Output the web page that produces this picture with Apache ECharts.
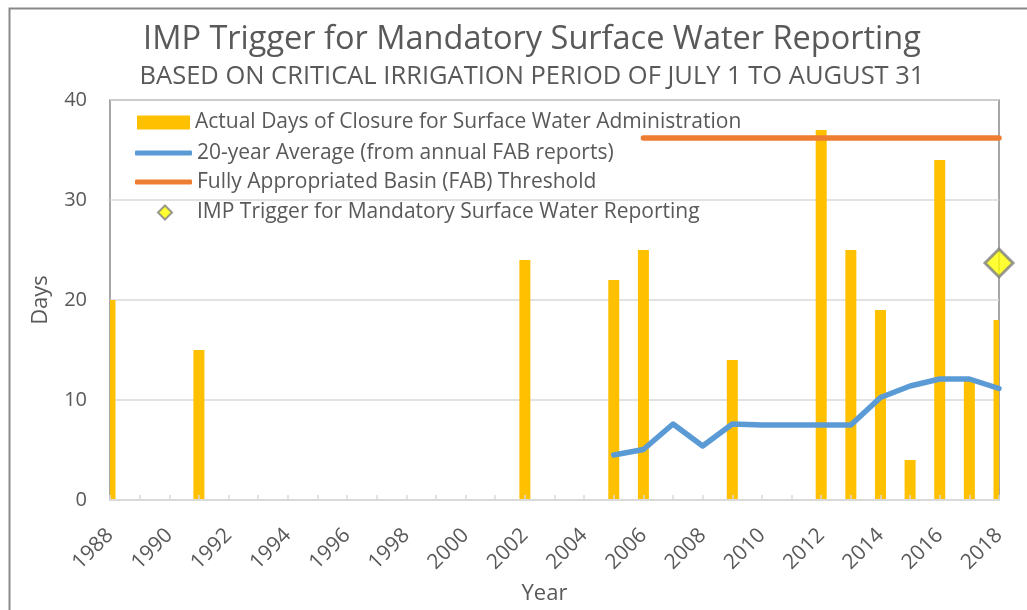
<!DOCTYPE html>
<html>
<head>
<meta charset="utf-8">
<script src="https://cdn.jsdelivr.net/npm/echarts@6/dist/echarts.min.js"></script>
<style>
html,body{margin:0;padding:0;background:#fff;}
#c{width:1027px;height:610px;}
</style>
</head>
<body>
<div id="c"></div>
<script>
// ---- data ----
const closureYears = [1988, 1991, 2002, 2005, 2006, 2009, 2012, 2013, 2014, 2015, 2016, 2017, 2018];
const closureDays  = [20,   15,   24,   22,   25,   14,   37,   25,   19,   4,    34,   12,   18];
const avgYears = [2005, 2006, 2007, 2008, 2009, 2010, 2011, 2012, 2013, 2014, 2015, 2016, 2017, 2018];
const avgDays  = [4.5,  5.05, 7.6,  5.4,  7.6,  7.5,  7.5,  7.5,  7.5,  10.25, 11.4, 12.1, 12.1, 11.15];
const fabYears = [2006, 2018];
const fabDays  = [36.2, 36.2];
const impYears = [2018];
const impDays  = [23.7];
const yearMin = 1988, yearMax = 2018;
const seriesNames = [
  'Actual Days of Closure for Surface Water Administration',
  '20-year Average (from annual FAB reports)',
  'Fully Appropriated Basin (FAB) Threshold',
  'IMP Trigger for Mandatory Surface Water Reporting'
];
const titleText = 'IMP Trigger for Mandatory Surface Water Reporting';
const subtitleText = 'BASED ON CRITICAL IRRIGATION PERIOD OF JULY 1 TO AUGUST 31';

const zip = (a, b) => a.map((v, i) => [v, b[i]]);
const FONT = 'Open Sans';
const TXT = '#595959';
const BAR_COLOR = '#FFC000';
const BAR_W = 11;

const chart = echarts.init(document.getElementById('c'), null, {renderer: 'canvas'});
const legendBase = {
  orient: 'vertical', left: 137, itemWidth: 53, itemHeight: 14, padding: 0,
  textStyle: {fontFamily: FONT, fontSize: 21, color: TXT}, selectedMode: false
};

function renderBar(params, api) {
  const x = api.value(0), v = api.value(1);
  const top = api.coord([x, v]);
  const base = api.coord([x, 0]);
  const cs = params.coordSys;
  const r = echarts.graphic.clipRectByRect(
    {x: top[0] - BAR_W / 2, y: top[1], width: BAR_W, height: base[1] - top[1]},
    {x: cs.x, y: cs.y, width: cs.width, height: cs.height});
  if (!r) return null;
  return {type: 'rect', shape: r, style: {fill: BAR_COLOR}};
}

chart.setOption({
  animation: false,
  backgroundColor: '#fff',
  textStyle: {fontFamily: FONT},
  title: [
    {text: titleText, left: 527, top: 18, textAlign: 'center',
     textStyle: {fontFamily: FONT, fontSize: 32.5, fontWeight: 'normal', color: TXT}},
    {text: subtitleText, left: 527, top: 59, textAlign: 'center',
     textStyle: {fontFamily: FONT, fontSize: 25.5, fontWeight: 'normal', color: TXT}}
  ],
  graphic: [
    {type: 'rect', left: 7, top: 6, shape: {width: 1100, height: 700},
     style: {fill: 'none', stroke: '#898989', lineWidth: 2}, silent: true, z: -1}
  ],
  legend: [
    Object.assign({}, legendBase, {top: 112, data: [{name: seriesNames[0], icon: 'rect'}]}),
    Object.assign({}, legendBase, {top: 142.5, itemWidth: 57, itemHeight: 5, left: 135,
      data: [{name: seriesNames[1], icon: 'roundRect'}]}),
    Object.assign({}, legendBase, {top: 171.5, itemWidth: 57, itemHeight: 5, left: 135,
      data: [{name: seriesNames[2], icon: 'roundRect'}]}),
    Object.assign({}, legendBase, {top: 202, left: 157, itemWidth: 14, itemHeight: 14,
      textStyle: {fontFamily: FONT, fontSize: 21, color: TXT, padding: [0, 0, 0, 20]},
      data: [seriesNames[3]]})
  ],
  grid: {left: 110, right: 28, top: 100, bottom: 110, show: true,
         borderColor: '#898989', borderWidth: 1.5, backgroundColor: 'transparent'},
  xAxis: {
    type: 'value', min: yearMin, max: yearMax, interval: 1, z: 3,
    name: 'Year', nameLocation: 'middle', nameGap: 83,
    nameTextStyle: {fontFamily: FONT, fontSize: 22, color: TXT, padding: [0, 20, 0, 0]},
    axisLine: {show: true, lineStyle: {color: '#d9d9d9', width: 2}},
    axisTick: {show: true, inside: true, length: 5, lineStyle: {color: '#d9d9d9', width: 1.5}},
    splitLine: {show: false},
    axisLabel: {rotate: 45, margin: 32, fontFamily: FONT, fontSize: 21, color: TXT,
      showMinLabel: true, showMaxLabel: true,
      formatter: v => (v % 2 === 0 ? String(v) : '')}
  },
  yAxis: {
    type: 'value', min: 0, max: 40, interval: 10,
    name: 'Days', nameLocation: 'middle', nameGap: 58, nameRotate: 90,
    nameTextStyle: {fontFamily: FONT, fontSize: 22, color: TXT},
    axisLine: {show: false}, axisTick: {show: false},
    splitLine: {lineStyle: {color: '#d9d9d9', width: 1.5}},
    axisLabel: {margin: 23, fontFamily: FONT, fontSize: 20, color: TXT}
  },
  series: [
    {name: seriesNames[0], type: 'custom', renderItem: renderBar,
     encode: {x: 0, y: 1}, data: zip(closureYears, closureDays),
     itemStyle: {color: BAR_COLOR}, z: 2},
    {name: seriesNames[1], type: 'line', data: zip(avgYears, avgDays), symbol: 'none',
     lineStyle: {color: '#5B9BD5', width: 5.5, cap: 'round', join: 'round'},
     itemStyle: {color: '#5B9BD5'}, clip: false, z: 4},
    {name: seriesNames[2], type: 'line', data: zip(fabYears, fabDays), symbol: 'none',
     lineStyle: {color: '#ED7D31', width: 5.5, cap: 'round'},
     itemStyle: {color: '#ED7D31'}, clip: false, z: 4},
    {name: seriesNames[3], type: 'scatter', data: zip(impYears, impDays), symbol: 'diamond',
     symbolSize: 28, itemStyle: {color: '#FFFF00', borderColor: '#7F7F7F', borderWidth: 3},
     clip: false, z: 5}
  ]
});
</script>
</body>
</html>
